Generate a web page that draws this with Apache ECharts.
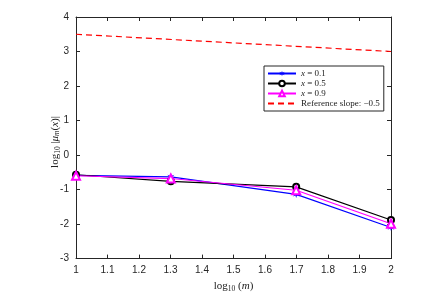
<!DOCTYPE html>
<html><head><meta charset="utf-8">
<script src="https://cdn.jsdelivr.net/npm/echarts@6/dist/echarts.min.js"></script>
<style>html,body{margin:0;padding:0;background:#fff}#c{width:440px;height:298px}</style>
</head><body><div id="c"></div>
<script>
const xVals = [1, 1.30103, 1.69897, 2];
const s01 = [-0.59, -0.63, -1.14, -2.10];
const s05 = [-0.57, -0.76, -0.92, -1.88];
const s09 = [-0.60, -0.68, -1.02, -1.99];
const refX = [1, 2];
const refY = [3.5, 3.0];
const xTicks = [1,1.1,1.2,1.3,1.4,1.5,1.6,1.7,1.8,1.9,2];
const yTicks = [-3,-2,-1,0,1,2,3,4];
const names = ['x = 0.1','x = 0.5','x = 0.9','Reference slope: \u22120.5'];

const star = 'path://M0,-10 L2,-3 L9,-6 L4,0 L9,6 L2,3 L0,10 L-2,3 L-9,6 L-4,0 L-9,-6 L-2,-3 Z';
const zip = (xs, ys) => xs.map((x,i)=>[x, ys[i]]);
const axisCol = '#262626';
const chart = echarts.init(document.getElementById('c'));
const serif = '"Liberation Serif","DejaVu Serif",serif';
const sans = '"Liberation Sans",Arial,sans-serif';
const fmtX = v => { const r = Math.round(v*10)/10; return xTicks.some(t=>Math.abs(t-r)<1e-9) ? String(r) : ''; };
const nameRich = {
  a:{fontFamily:serif,fontSize:11,fill:'#222',color:'#222'},
  s:{fontFamily:serif,fontSize:7.5,fill:'#222',color:'#222',padding:[6,0,0,0]},
  s2:{fontFamily:serif,fontStyle:'italic',fontSize:7.5,fill:'#222',color:'#222',padding:[5,0,0,0]},
  i:{fontFamily:serif,fontStyle:'italic',fontSize:11,fill:'#222',color:'#222'}
};
const tick = {inside:true,length:4,lineStyle:{color:axisCol}};
chart.setOption({
  animation:false,
  backgroundColor:'#fff',
  legend:{
    orient:'vertical', left:264, top:66,
    padding:[3,4,3,3], itemGap:1, itemWidth:28, itemHeight:7,
    backgroundColor:'#fff', borderColor:axisCol, borderWidth:1, borderRadius:0,
    itemStyle:{borderWidth:1},
    textStyle:{fontFamily:serif,fontSize:9,color:'#222',
      rich:{i:{fontFamily:serif,fontStyle:'italic',fontSize:9,color:'#222'}}},
    formatter: n => n.startsWith('x') ? '{i|x}' + n.slice(1) : n,
    data:[names[0],names[1],names[2],{name:names[3],itemStyle:{opacity:0}}]
  },
  graphic:[{
    type:'text', x:55, y:142, rotation:Math.PI/2,
    style:{text:'{a|log}{s|10}{a| |}{i|\u03bc}{s2|m}{a|(}{i|x}{a|)|}', rich:nameRich, align:'center', verticalAlign:'middle'}
  }],
  grid:{left:76,right:49,top:17,bottom:33},
  xAxis:[{
    type:'value', min:1, max:2, interval:0.1,
    axisLine:{show:true,onZero:false,lineStyle:{color:axisCol}},
    axisTick:tick, splitLine:{show:false},
    axisLabel:{fontFamily:sans,fontSize:10,color:axisCol,margin:7,formatter:fmtX},
    name:'{a|log}{s|10}{a| (}{i|m}{a|)}', nameLocation:'middle', nameGap:18,
    nameTextStyle:{rich:nameRich}
  },{
    type:'value', min:1, max:2, interval:0.1, position:'top',
    axisLine:{show:true,onZero:false,lineStyle:{color:axisCol}},
    axisTick:tick, axisLabel:{show:false}, splitLine:{show:false}
  }],
  yAxis:[{
    type:'value', min:-3, max:4, interval:1,
    axisLine:{show:true,onZero:false,lineStyle:{color:axisCol}},
    axisTick:tick, splitLine:{show:false},
    axisLabel:{fontFamily:sans,fontSize:10,color:axisCol,margin:7}
  },{
    type:'value', min:-3, max:4, interval:1, position:'right',
    axisLine:{show:true,onZero:false,lineStyle:{color:axisCol}},
    axisTick:tick, axisLabel:{show:false}, splitLine:{show:false}
  }],
  series:[
    {name:names[0],type:'line',data:zip(xVals,s01),color:'#0000ff',lineStyle:{width:1.2,color:'#0000ff'},
     symbol:star,symbolSize:7,itemStyle:{color:'#0000ff',borderWidth:0}},
    {name:names[1],type:'line',data:zip(xVals,s05),color:'#000',lineStyle:{width:1.2,color:'#000'},
     symbol:'emptyCircle',symbolSize:6,itemStyle:{color:'#000',borderColor:'#000',borderWidth:1}},
    {name:names[2],type:'line',data:zip(xVals,s09),color:'#ff00ff',lineStyle:{width:1.2,color:'#ff00ff'},
     symbol:'emptyTriangle',symbolSize:8,itemStyle:{color:'#ff00ff',borderColor:'#ff00ff',borderWidth:1.2}},
    {name:names[3],type:'line',data:zip(refX,refY),color:'#ff0000',lineStyle:{width:1.2,color:'#ff0000',type:[6,4]},
     symbol:'none'}
  ]
});
</script></body></html>
